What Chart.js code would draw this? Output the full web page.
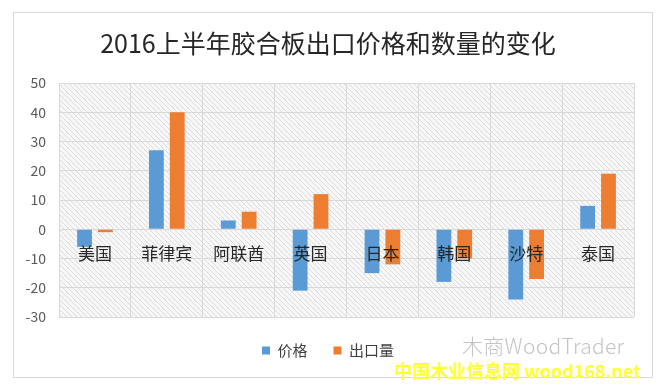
<!DOCTYPE html>
<html>
<head>
<meta charset="utf-8">
<script src="https://cdn.jsdelivr.net/npm/chart.js@4.4.1/dist/chart.umd.min.js"></script>
<style>
  body { margin: 0; background: #fff; }
  #wrap { position: relative; width: 665px; height: 385px; }
  #frame { position: absolute; left: 13px; top: 12px; width: 638px; height: 364px; border: 1px solid #d9d9d9; pointer-events: none; }
  .wm1 { position: absolute; left: 462px; top: 330px; font: 300 21px 'Noto Sans CJK SC', sans-serif; color: #c4c4c4; letter-spacing: 0.3px; }
  .wm2 { position: absolute; left: 394px; top: 357px; font: bold 18px 'Noto Sans CJK SC', sans-serif; color: #ffff33; }
</style>
</head>
<body>
<div id="wrap">
  <canvas id="myChart" width="665" height="385"></canvas>
  <div id="frame"></div>
  <div class="wm1">木商WoodTrader</div>
  <div class="wm2">中国木业信息网 wood168.net</div>
</div>
<script>
const countries = ['美国', '菲律宾', '阿联酋', '英国', '日本', '韩国', '沙特', '泰国']
const priceChange = [-6, 27, 3, -21, -15, -18, -24, 8]
const volumeChange = [-1, 40, 6, 12, -12, -10, -17, 19]
const yTicks = [50, 40, 30, 20, 10, 0, -10, -20, -30]

const font = "'Noto Sans CJK SC', 'Noto Sans', sans-serif"

// diagonal hatch behind the plot area
const hatch = {
  id: 'hatch',
  beforeDraw(chart) {
    const { ctx, chartArea: a } = chart
    const p = document.createElement('canvas')
    p.width = 5; p.height = 5
    const pc = p.getContext('2d')
    pc.fillStyle = '#f7f7f7'
    pc.fillRect(0, 0, 5, 5)
    pc.strokeStyle = '#dcdcdc'
    pc.lineWidth = 1
    pc.beginPath()
    pc.moveTo(-1, -1); pc.lineTo(6, 6)
    pc.moveTo(-1, 4); pc.lineTo(1, 6)
    pc.moveTo(4, -1); pc.lineTo(6, 1)
    pc.stroke()
    ctx.save()
    ctx.fillStyle = ctx.createPattern(p, 'repeat')
    ctx.fillRect(a.left, a.top, a.right - a.left, a.bottom - a.top)
    ctx.restore()
  }
}

const data = {
  labels: countries,
  datasets: [{
    label: '价格',
    backgroundColor: '#5B9BD5',
    data: priceChange,
    categoryPercentage: 0.58,
    barPercentage: 0.71
  }, {
    label: '出口量',
    backgroundColor: '#ED7D31',
    data: volumeChange,
    categoryPercentage: 0.58,
    barPercentage: 0.71
  }]
}

const config = {
  type: 'bar',
  data: data,
  plugins: [hatch],
  options: {
    responsive: false,
    animation: false,
    layout: { padding: { left: 22, right: 31, top: 0, bottom: 17 } },
    plugins: {
      title: {
        display: true,
        text: '2016上半年胶合板出口价格和数量的变化',
        color: '#262626',
        font: { family: font, size: 25, weight: 'normal' },
        padding: { top: 28, bottom: 25 }
      },
      legend: {
        position: 'bottom',
        align: 'center',
        labels: {
          color: '#404040',
          font: { family: font, size: 15 },
          boxWidth: 8,
          boxHeight: 8,
          padding: 26
        }
      },
      tooltip: { enabled: false }
    },
    scales: {
      x: {
        position: { y: 0 },
        offset: true,
        grid: { offset: true, color: '#d9d9d9', drawTicks: false },
        border: { color: '#d9d9d9' },
        ticks: { display: false }
      },
      xl: {
        type: 'category',
        labels: countries,
        position: { y: 0 },
        offset: true,
        grid: { display: false, drawTicks: false },
        border: { display: false },
        ticks: { z: 1, color: '#262626', font: { family: font, size: 17 }, padding: 14 }
      },
      y: {
        min: -30,
        max: 50,
        afterFit(scale) { scale.width = 37 },
        afterBuildTicks(scale) { scale.ticks = yTicks.map(v => ({ value: v })) },
        grid: { color: '#d9d9d9', drawTicks: false },
        border: { color: '#d9d9d9' },
        ticks: { color: '#595959', font: { family: font, size: 14 }, padding: 13 }
      }
    }
  }
}

const myChart = new Chart(document.getElementById('myChart'), config)
</script>
</body>
</html>
